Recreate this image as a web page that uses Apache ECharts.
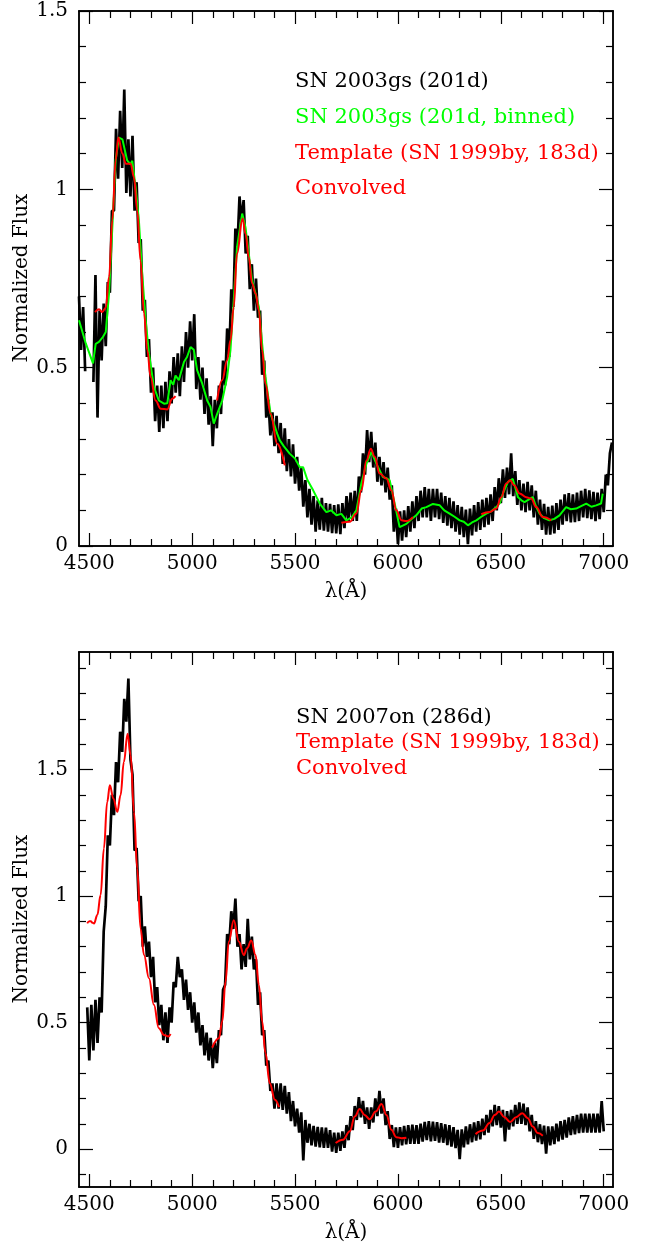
<!DOCTYPE html>
<html><head><meta charset="utf-8">
<script src="https://cdn.jsdelivr.net/npm/echarts@6/dist/echarts.min.js"></script>
<style>html,body{margin:0;padding:0;background:#fff}#c{width:649px;height:1248px}</style>
</head><body><div id="c"></div>
<script>
// ---------- axes ----------
const waveMin = 4450, waveMax = 7045;
const xMajorTicks = [4500,5000,5500,6000,6500,7000];
const xMinorTicks = [4600,4700,4800,4900,5100,5200,5300,5400,5600,5700,5800,5900,6100,6200,6300,6400,6600,6700,6800,6900];
const topYMin = 0, topYMax = 1.5;
const topYMajor = [0,0.5,1,1.5];
const topYMinor = [0.1,0.2,0.3,0.4,0.6,0.7,0.8,0.9,1.1,1.2,1.3,1.4];
const botYMin = -0.15, botYMax = 1.965;
const botYMajor = [0,0.5,1,1.5];
const botYMinor = [-0.1,0.1,0.2,0.3,0.4,0.6,0.7,0.8,0.9,1.1,1.2,1.3,1.4,1.6,1.7,1.8,1.9];

// ---------- top panel: SN 2003gs (201d), sampled every 10 A from 4450 ----------
const topObsStart = 4450, topObsStep = 10;
const topObsFlux = [
 .70,.55,.67,.49,null,null,null,.46,.76,.36,
 .66,.52,.68,.56,.74,.71,.94,.94,1.17,1.03,
 1.22,1.06,1.28,.99,1.14,.98,1.15,.94,1.02,.85,
 .86,.66,.69,.53,.58,.43,.50,.35,.45,.32,
 .45,.33,.46,.35,.49,.40,.53,.43,.54,.42,
 .56,.46,.60,.50,.63,.52,.65,.44,.53,.41,
 .50,.37,.47,.34,.42,.28,.41,.33,.45,.37,
 .52,.45,.61,.53,.72,.67,.89,.84,.98,.91,
 .97,.82,.87,.72,.79,.66,.75,.64,.66,.48,
 .52,.36,.41,.31,.375,.28,.365,.26,.345,.23,
 .33,.21,.30,.195,.285,.175,.25,.155,.22,.11,
 .185,.08,.16,.06,.14,.04,.128,.046,.135,.043,
 .12,.04,.118,.036,.115,.035,.117,.033,.12,.05,
 .14,.07,.15,.07,.155,.07,.195,.15,.26,.20,
 .325,.235,.32,.22,.29,.18,.25,.17,.235,.15,
 .22,.13,.17,.04,.105,.005,.097,.015,.10,.025,
 .112,.04,.125,.05,.14,.07,.155,.08,.165,.08,
 .16,.07,.16,.08,.16,.075,.15,.065,.14,.057,
 .135,.05,.125,.04,.115,.032,.11,.025,.102,.005,
 .105,.03,.115,.04,.123,.045,.13,.053,.135,.06,
 .145,.07,.165,.10,.19,.12,.215,.135,.22,.145,
 .26,.14,.21,.115,.185,.10,.175,.095,.18,.10,
 .17,.08,.155,.06,.13,.045,.118,.032,.11,.032,
 .113,.035,.12,.045,.13,.06,.145,.07,.148,.066,
 .145,.067,.15,.07,.155,.08,.16,.078,.156,.075,
 .152,.07,.15,.075,.16,.095,.20,.17,.26,.29
];
const topBinned = [
 [4450,.633],[4483,.568],[4518,.512],[4531,.567],[4547,.572],[4566,.586],[4580,.60],[4596,.708],
 [4612,.894],[4628,1.081],[4644,1.145],[4661,1.14],[4684,1.081],[4700,1.07],[4709,1.08],[4725,1.006],
 [4741,.913],[4757,.764],[4774,.633],[4790,.54],[4814,.446],[4838,.408],[4863,.399],[4879,.40],
 [4895,.465],[4908,.452],[4919,.478],[4935,.465],[4960,.516],[4975,.53],[4992,.558],[5008,.55],[5024,.493],
 [5049,.455],[5073,.408],[5089,.39],[5105,.343],[5121,.37],[5146,.408],[5170,.474],[5186,.549],
 [5202,.689],[5218,.838],[5243,.932],[5259,.894],[5275,.82],[5291,.745],[5308,.708],[5324,.67],
 [5340,.567],[5356,.474],[5381,.371],[5413,.315],[5426,.296],[5445,.28],[5474,.259],[5500,.245],
 [5523,.221],[5539,.221],[5560,.185],[5588,.156],[5620,.119],[5652,.095],[5675,.10],[5701,.086],
 [5725,.09],[5749,.072],[5775,.08],[5798,.10],[5822,.175],[5847,.231],[5871,.264],[5895,.231],
 [5927,.193],[5945,.19],[5960,.184],[5984,.119],[6008,.053],[6041,.062],[6065,.075],[6089,.086],
 [6115,.105],[6138,.109],[6170,.118],[6203,.114],[6225,.10],[6251,.091],[6275,.082],[6300,.072],
 [6320,.068],[6340,.058],[6360,.066],[6381,.072],[6405,.082],[6429,.091],[6455,.098],[6478,.109],
 [6495,.12],[6510,.147],[6534,.179],[6558,.188],[6572,.16],[6583,.137],[6600,.128],[6615,.123],
 [6635,.13],[6655,.137],[6670,.112],[6688,.091],[6710,.078],[6736,.072],[6760,.076],[6785,.086],
 [6817,.109],[6840,.103],[6866,.105],[6890,.112],[6915,.119],[6940,.11],[6963,.114],[6987,.119],[6995,.147]
];
const topTemplate1 = [[4528,.656],[4547,.664],[4563,.656],[4580,.668],[4596,.754],[4612,.913],[4628,1.081],[4641,1.145],[4661,1.10],[4677,1.072],[4701,1.072],[4717,1.034],[4733,.941],[4749,.80],[4766,.652],[4782,.549],[4798,.474],[4822,.408],[4847,.385],[4879,.383],[4903,.413],[4919,.42]];
const topTemplate2 = [[5121,.408],[5146,.465],[5170,.521],[5186,.577],[5202,.67],[5218,.82],[5245,.918],[5259,.876],[5275,.81],[5291,.736],[5308,.708],[5324,.661],[5340,.549],[5356,.455],[5381,.371],[5413,.287],[5450,.226]];
const topTemplate3 = [[5725,.065],[5766,.068],[5798,.091],[5822,.156],[5847,.24],[5868,.273],[5887,.25],[5911,.203],[5944,.189],[5968,.156],[5992,.10],[6017,.072],[6041,.07],[6073,.081]];
const topTemplate4 = [[6405,.089],[6445,.095],[6478,.105],[6502,.137],[6526,.175],[6545,.184],[6565,.17],[6591,.147],[6623,.137],[6647,.133],[6672,.109],[6704,.081],[6745,.072]];

// ---------- bottom panel: SN 2007on (286d), sampled every 10 A from 4490 ----------
const botObsStart = 4490, botObsStep = 10;
const botObsFlux = [
 .56,.35,.57,.39,.59,.42,.60,.54,.86,.96,
 1.24,1.20,1.40,1.32,1.53,1.45,1.65,1.57,1.78,1.69,
 1.86,1.54,1.48,1.18,1.19,.98,1.00,.80,.88,.76,
 .82,.68,.76,.58,.64,.49,.57,.43,.54,.42,
 .56,.50,.66,.64,.76,.68,.71,.59,.67,.55,
 .62,.50,.58,.46,.54,.41,.49,.37,.46,.35,
 .44,.32,.42,.34,.47,.45,.63,.65,.85,.81,
 .94,.87,.99,.80,.85,.71,.81,.72,.91,.75,
 .84,.71,.75,.57,.62,.45,.47,.33,.35,.23,
 .26,.16,.26,.16,.26,.155,.25,.14,.225,.11,
 .19,.09,.16,.065,.145,-.045,.115,.025,.10,.015,
 .092,.01,.088,.007,.086,.005,.085,.005,.075,-.01,
 .065,-.015,.065,-.007,.07,.005,.095,.035,.13,.075,
 .17,.115,.205,.125,.19,.10,.165,.08,.165,.105,
 .20,.13,.23,.14,.20,.095,.15,.04,.095,.008,
 .086,.005,.087,.015,.092,.019,.095,.021,.097,.021,
 .095,.021,.10,.029,.107,.035,.11,.03,.108,.032,
 .106,.025,.102,.025,.098,.016,.095,.01,.087,.004,
 .076,-.04,.078,.007,.09,.019,.098,.027,.105,.033,
 .11,.038,.12,.055,.135,.065,.155,.09,.175,.095,
 .17,.085,.155,.03,.15,.077,.155,.09,.175,.10,
 .185,.10,.18,.095,.165,.07,.135,.04,.11,.027,
 .098,.02,.093,-.018,.09,.015,.09,.02,.10,.03,
 .11,.037,.115,.045,.125,.055,.13,.058,.135,.063,
 .14,.065,.14,.065,.14,.065,.14,.065,.14,.065,
 .19,.07
];
const botTemplate1 = [[4490,.892],[4498,.90],[4507,.901],[4515,.895],[4523,.892],[4539,.925],[4555,1.004],[4571,1.188],[4587,1.372],[4600,1.438],[4617,1.386],[4636,1.333],[4652,1.399],[4668,1.53],[4686,1.642],[4701,1.557],[4717,1.333],[4733,1.109],[4749,.872],[4766,.767],[4790,.675],[4814,.57],[4838,.478],[4863,.451],[4884,.445],[4895,.455]];
const botTemplate2 = [[5097,.401],[5130,.438],[5146,.504],[5162,.662],[5178,.82],[5202,.905],[5227,.82],[5251,.767],[5267,.794],[5287,.824],[5308,.767],[5324,.649],[5340,.504],[5356,.38],[5377,.26],[5402,.195],[5422,.166]];
const botTemplate3 = [[5697,.024],[5733,.037],[5766,.07],[5790,.129],[5814,.158],[5838,.135],[5863,.118],[5892,.148],[5920,.178],[5944,.135],[5968,.076],[5992,.047],[6017,.043],[6041,.045]];
const botTemplate4 = [[6377,.059],[6413,.073],[6445,.103],[6470,.135],[6491,.148],[6518,.126],[6545,.107],[6574,.126],[6604,.142],[6631,.122],[6655,.089],[6680,.063],[6704,.053]];

// ---------- text ----------
const topLegend = [
  {text:'SN 2003gs (201d)', color:'#000000'},
  {text:'SN 2003gs (201d, binned)', color:'#00ff00'},
  {text:'Template (SN 1999by, 183d)', color:'#ff0000'},
  {text:'Convolved', color:'#ff0000'}
];
const botLegend = [
  {text:'SN 2007on (286d)', color:'#000000'},
  {text:'Template (SN 1999by, 183d)', color:'#ff0000'},
  {text:'Convolved', color:'#ff0000'}
];
const xTitle = 'λ(Å)', yTitle = 'Normalized Flux';

// ---------- build ----------
const FONT = 'DejaVu Serif';
const grids = [
  {left:79, top:11, width:534, height:535},
  {left:79, top:652, width:534, height:535}
];
function axisCommon(min, max, pos, grid, ticks, len, labels){
  return {
    type:'value', gridIndex:grid, position:pos, min:min, max:max, scale:false,
    axisLine:{show:true, onZero:false, lineStyle:{color:'#000', width:1.5}},
    axisTick:{show:true, inside:true, length:len, customValues:ticks, lineStyle:{color:'#000', width:1.2}},
    axisLabel:labels ? {show:true, customValues:ticks, formatter:v=>String(v), color:'#000',
      fontFamily:FONT, fontSize:20, margin:(pos==='bottom'?8:11)} : {show:false},
    splitLine:{show:false}, splitArea:{show:false}
  };
}
const xAxes = [], yAxes = [];
[0,1].forEach(g=>{
  xAxes.push(axisCommon(waveMin, waveMax, 'bottom', g, xMajorTicks, 13, true));
  xAxes.push(axisCommon(waveMin, waveMax, 'bottom', g, xMinorTicks, 7, false));
  xAxes.push(axisCommon(waveMin, waveMax, 'top', g, xMajorTicks, 13, false));
  xAxes.push(axisCommon(waveMin, waveMax, 'top', g, xMinorTicks, 7, false));
  const ymin = g===0?topYMin:botYMin, ymax = g===0?topYMax:botYMax;
  const maj = g===0?topYMajor:botYMajor, mnr = g===0?topYMinor:botYMinor;
  yAxes.push(axisCommon(ymin, ymax, 'left', g, maj, 14, true));
  yAxes.push(axisCommon(ymin, ymax, 'left', g, mnr, 7, false));
  yAxes.push(axisCommon(ymin, ymax, 'right', g, maj, 14, false));
  yAxes.push(axisCommon(ymin, ymax, 'right', g, mnr, 7, false));
});
function gridData(start, step, vals){
  return vals.map((v,i)=>[start + i*step, v===null ? '-' : v]);
}
function line(g, data, color, width, smooth){
  return {type:'line', xAxisIndex:g*4, yAxisIndex:g*4, data:data, showSymbol:false, symbol:'none',
    smooth:smooth, smoothMonotone:'x', connectNulls:false, animation:false, silent:true,
    lineStyle:{color:color, width:width, join:'bevel'}, itemStyle:{color:color}, clip:true};
}
const series = [
  line(0, gridData(topObsStart, topObsStep, topObsFlux), '#000000', 2.7, false),
  line(0, topBinned, '#00ff00', 2, false),
  line(0, topTemplate1, '#ff0000', 2, 0.4),
  line(0, topTemplate2, '#ff0000', 2, 0.4),
  line(0, topTemplate3, '#ff0000', 2, 0.4),
  line(0, topTemplate4, '#ff0000', 2, 0.4),
  line(1, gridData(botObsStart, botObsStep, botObsFlux), '#000000', 2.7, false),
  line(1, botTemplate1, '#ff0000', 2, 0.4),
  line(1, botTemplate2, '#ff0000', 2, 0.4),
  line(1, botTemplate3, '#ff0000', 2, 0.4),
  line(1, botTemplate4, '#ff0000', 2, 0.4)
];
const graphic = [];
const LEG_FONT = '21px "'+FONT+'"';
topLegend.forEach((l,i)=>graphic.push({type:'text', x:295, y:[81.7,117.7,153.3,188.3][i],
  style:{text:l.text, fill:l.color, font:LEG_FONT, textAlign:'left', textVerticalAlign:'middle'}}));
botLegend.forEach((l,i)=>graphic.push({type:'text', x:296, y:[717.5,743,769][i],
  style:{text:l.text, fill:l.color, font:LEG_FONT, textAlign:'left', textVerticalAlign:'middle'}}));
[[346,592],[346,1232.5]].forEach(p=>graphic.push({type:'text', x:p[0], y:p[1],
  style:{text:xTitle, fill:'#000', font:'20px "'+FONT+'"', textAlign:'center', textVerticalAlign:'middle'}}));
[[22,278],[22,919]].forEach(p=>graphic.push({type:'text', x:p[0], y:p[1], rotation:Math.PI/2,
  style:{text:yTitle, fill:'#000', font:'20px "'+FONT+'"', textAlign:'center', textVerticalAlign:'middle'}}));

const chart = echarts.init(document.getElementById('c'), null, {renderer:'canvas', width:649, height:1248});
chart.setOption({
  backgroundColor:'#ffffff', animation:false,
  grid:grids, xAxis:xAxes, yAxis:yAxes, series:series, graphic:graphic
});
</script></body></html>
